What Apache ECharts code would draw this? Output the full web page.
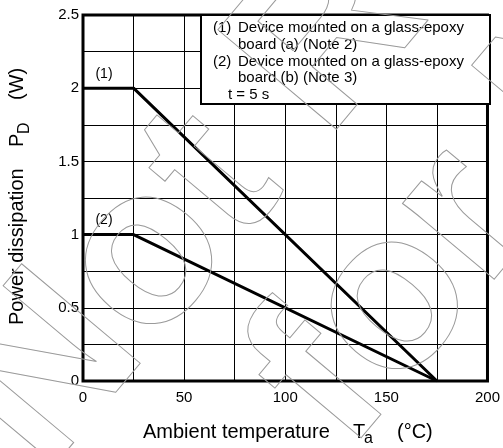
<!DOCTYPE html>
<html>
<head>
<meta charset="utf-8">
<script src="https://cdn.jsdelivr.net/npm/echarts@6/dist/echarts.min.js"></script>
<style>
html,body{margin:0;padding:0;background:#fff;}
#c{width:503px;height:448px;}
</style>
</head>
<body>
<div id="c"></div>
<script>
// ---- data ----
var temps1 = [0, 25, 175];
var pd1 = [2.0, 2.0, 0];
var temps2 = [0, 25, 175];
var pd2 = [1.0, 1.0, 0];
var seriesNames = ['(1)', '(2)'];
var xLabelValues = [0, 50, 100, 150, 200];
var yLabelValues = [0, 0.5, 1, 1.5, 2, 2.5];
var noteLines = [
  ['(1)', 'Device mounted on a glass-epoxy'],
  ['', 'board (a) (Note 2)'],
  ['(2)', 'Device mounted on a glass-epoxy'],
  ['', 'board (b) (Note 3)']
];
var noteTime = 't = 5 s';
var watermarkLines = ['Not Recommended', 'for New Design'];

var FONT = '"Liberation Sans", Arial, sans-serif';

function pairs(xs, ys, name) {
  return xs.map(function (x, i) {
    var item = { value: [x, ys[i]] };
    if (i === 0) {
      item.label = {
        show: true, formatter: name, position: 'top', distance: 4,
        offset: [21, -3], color: '#000', fontSize: 14, fontFamily: FONT
      };
    }
    return item;
  });
}

var chart = echarts.init(document.getElementById('c'), null, { renderer: 'canvas' });

function txt(x, y, s, size, extra) {
  var st = { text: s, fontSize: size, fontFamily: FONT, fill: '#000', verticalAlign: 'middle', align: 'left' };
  var el = { type: 'text', z: 51, x: x, y: y, style: st };
  if (extra) for (var k in extra) el[k] = extra[k];
  return el;
}

var graphics = [];
// note box
graphics.push({
  type: 'rect', z: 50,
  shape: { x: 201, y: 15, width: 289, height: 89 },
  style: { fill: '#fff', stroke: '#000', lineWidth: 2 }
});
var ly = 28;
noteLines.forEach(function (ln) {
  if (ln[0]) graphics.push(txt(213, ly, ln[0], 15));
  graphics.push(txt(238, ly, ln[1], 15));
  ly += 16.7;
});
graphics.push(txt(228, ly, noteTime, 15));

// x axis title
graphics.push(txt(143, 432, 'Ambient temperature', 20));
graphics.push(txt(353, 432, 'T', 20));
graphics.push(txt(364, 439, 'a', 16));
graphics.push(txt(397, 432, '(°C)', 20));

// y axis title (rotated)
graphics.push(txt(17, 325, 'Power dissipation', 20, { rotation: Math.PI / 2 }));
graphics.push(txt(17, 147, 'P', 20, { rotation: Math.PI / 2 }));
graphics.push(txt(25, 134, 'D', 16, { rotation: Math.PI / 2 }));
graphics.push(txt(17, 100, '(W)', 20, { rotation: Math.PI / 2 }));

// watermark (outlined)
var wmStarts = [[-2, 436], [300, 414]];
watermarkLines.forEach(function (s, i) {
  graphics.push({ type: 'text', z: 200, x: wmStarts[i][0], y: wmStarts[i][1], rotation: 50 * Math.PI / 180, silent: true,
    style: { text: s, fontSize: 225, fontWeight: 'bold', fontFamily: FONT, fill: 'none',
      stroke: '#9a9a9a', lineWidth: 1, align: 'left', verticalAlign: 'middle' } });
});

chart.setOption({
  animation: false,
  backgroundColor: '#fff',
  grid: { left: 83, right: 13, top: 15, bottom: 67, show: true, borderColor: '#000', borderWidth: 3, backgroundColor: 'transparent', z: 3 },
  xAxis: {
    type: 'value', min: 0, max: 200, interval: 25,
    axisLine: { show: false }, axisTick: { show: false },
    splitLine: { show: true, lineStyle: { color: '#000', width: 1 } },
    axisLabel: {
      color: '#000', fontSize: 15, fontFamily: FONT, margin: 9,
      formatter: function (v) { return xLabelValues.indexOf(v) >= 0 ? String(v) : ''; }
    }
  },
  yAxis: {
    type: 'value', min: 0, max: 2.5, interval: 0.25,
    axisLine: { show: false }, axisTick: { show: false },
    splitLine: { show: true, lineStyle: { color: '#000', width: 1 } },
    axisLabel: {
      color: '#000', fontSize: 15, fontFamily: FONT, margin: 4,
      formatter: function (v) {
        var r = Math.round(v * 100) / 100;
        return yLabelValues.indexOf(r) >= 0 ? String(r) : '';
      }
    }
  },
  series: [
    { type: 'line', name: seriesNames[0], data: pairs(temps1, pd1, seriesNames[0]), showSymbol: true, symbol: 'circle', symbolSize: 0,
      lineStyle: { color: '#000', width: 3 }, z: 5 },
    { type: 'line', name: seriesNames[1], data: pairs(temps2, pd2, seriesNames[1]), showSymbol: true, symbol: 'circle', symbolSize: 0,
      lineStyle: { color: '#000', width: 3 }, z: 5 }
  ],
  graphic: graphics
});
</script>
</body>
</html>
